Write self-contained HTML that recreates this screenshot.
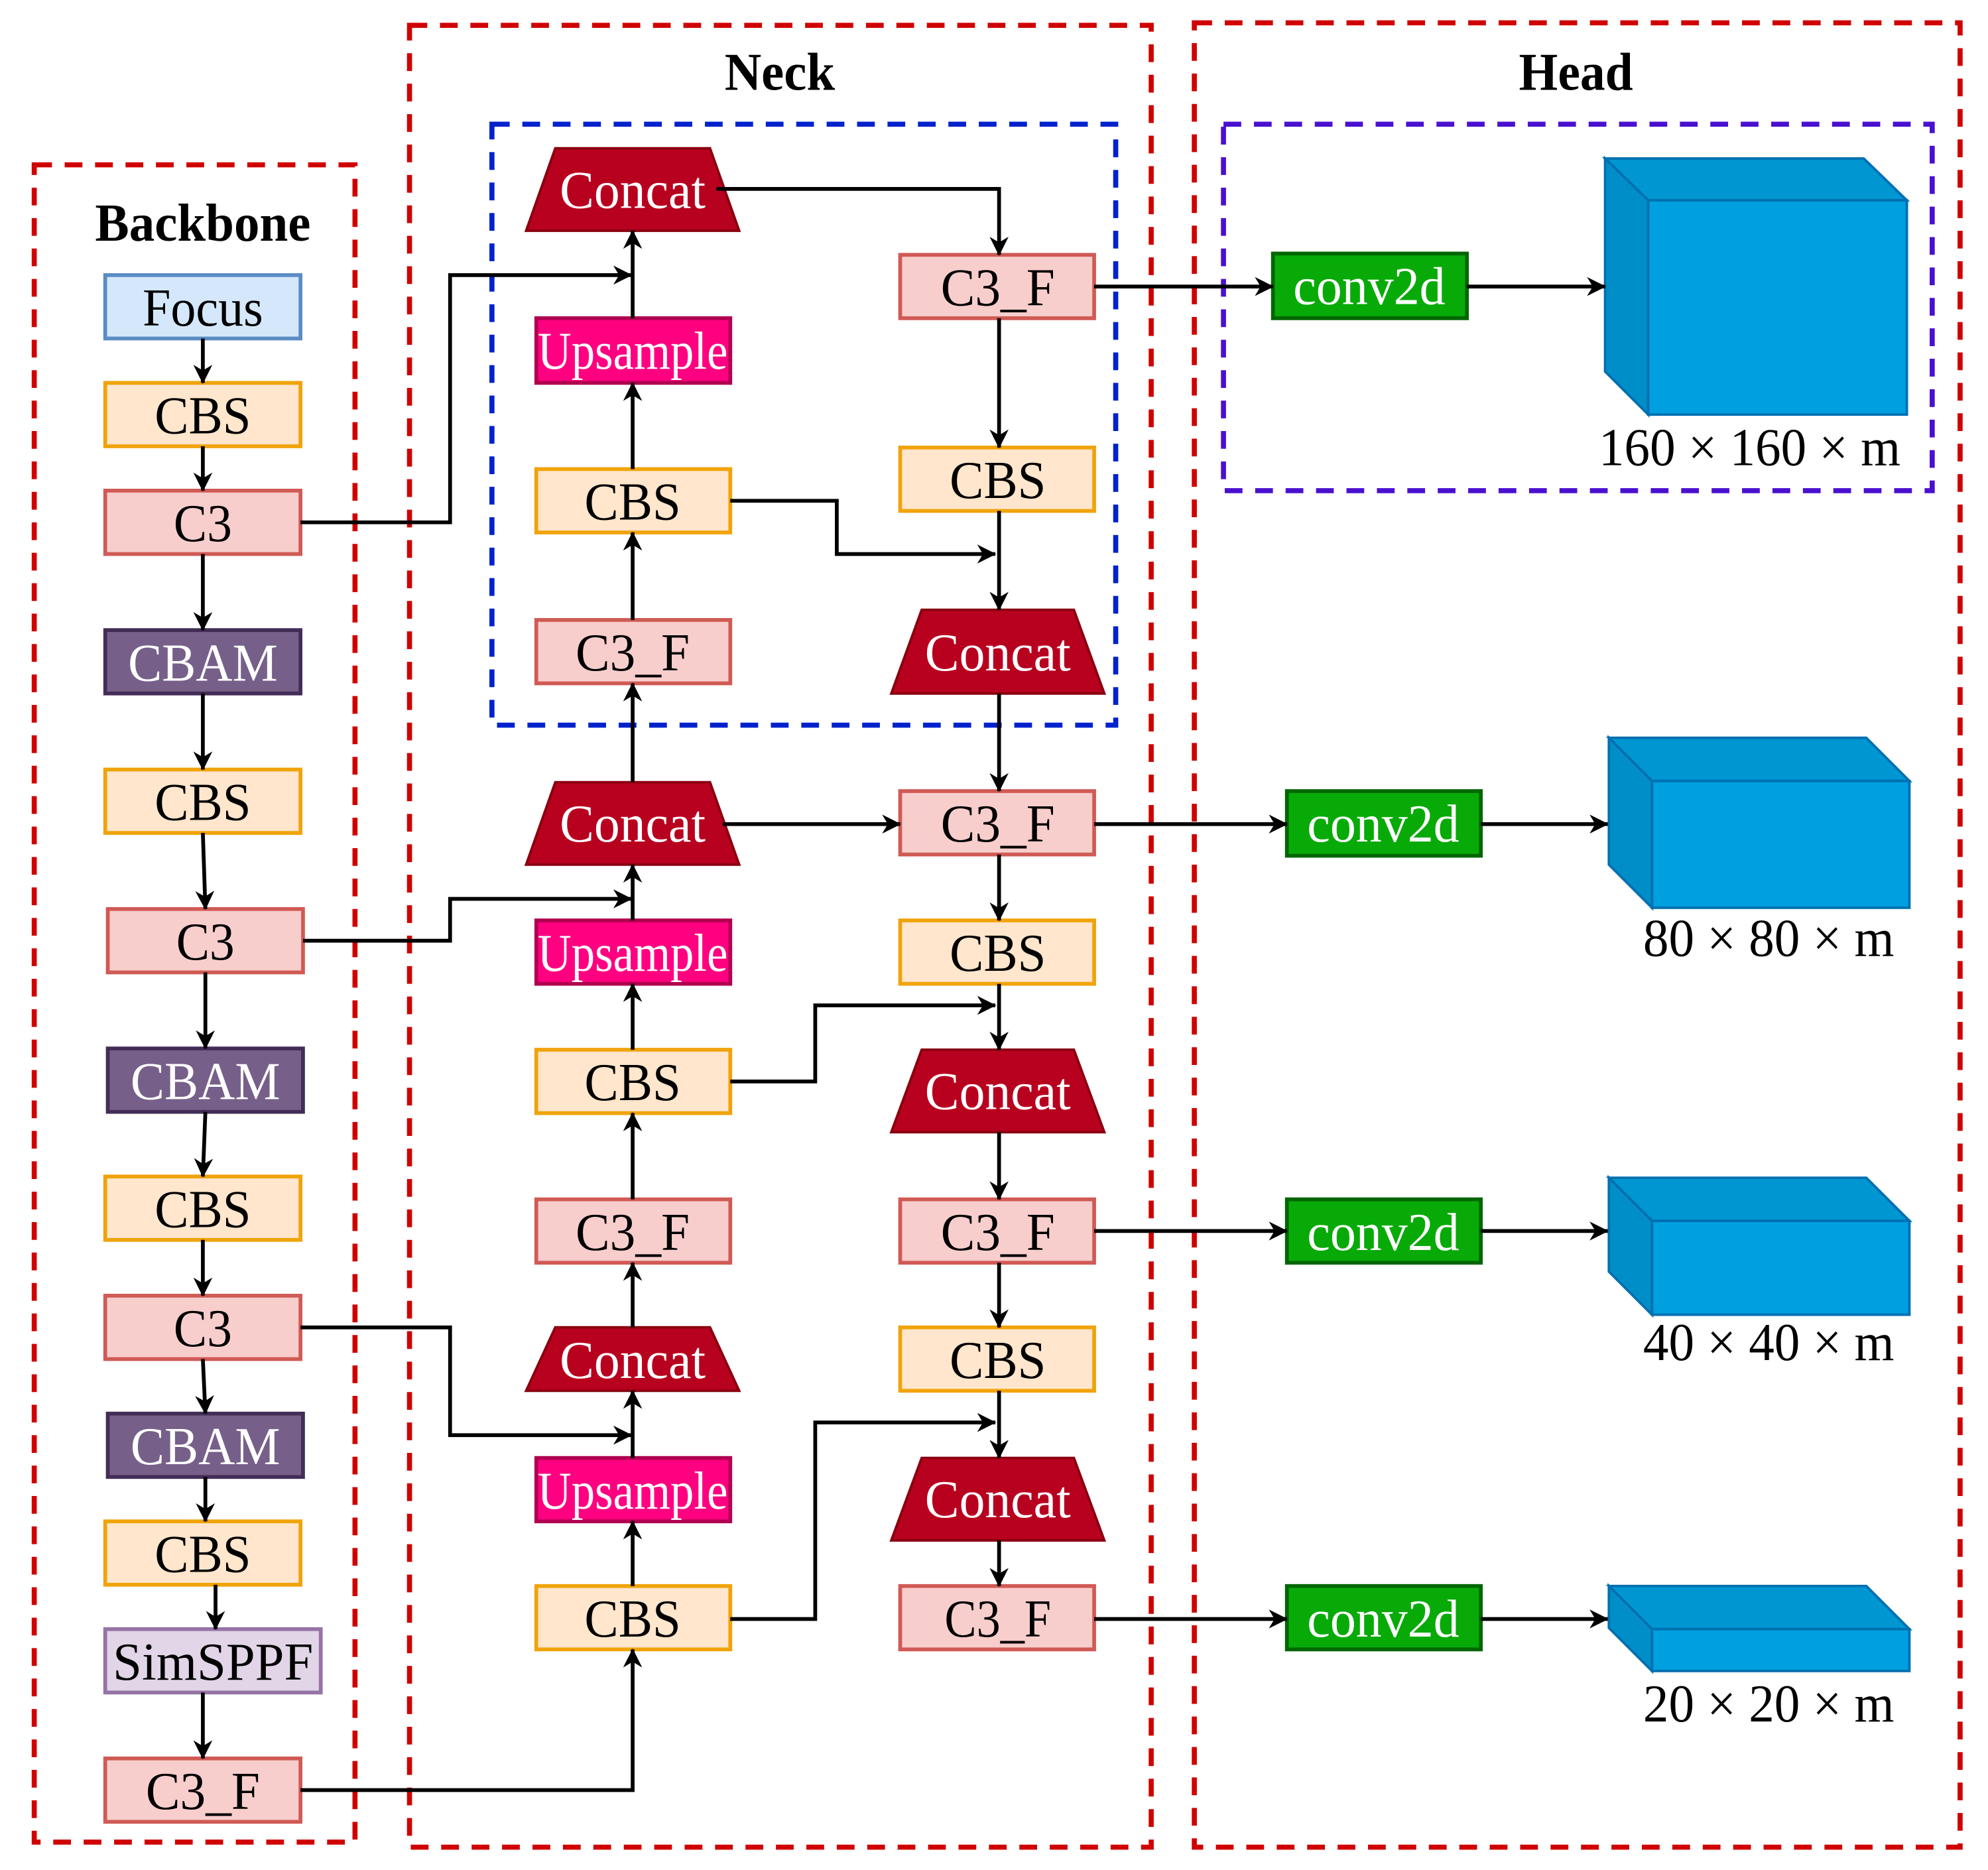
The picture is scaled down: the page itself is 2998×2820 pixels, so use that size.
<!DOCTYPE html>
<html><head><meta charset="utf-8"><style>
html,body{margin:0;padding:0;background:#fff;}
svg{display:block;}
text{font-family:"Liberation Serif",serif;text-anchor:middle;dominant-baseline:central;}
</style></head><body>
<svg width="2998" height="2820" viewBox="0 0 1568 1475" preserveAspectRatio="none" xmlns="http://www.w3.org/2000/svg">
<defs>
<marker id="a" viewBox="0 0 10 10" refX="9.5" refY="5" markerWidth="17" markerHeight="15" orient="auto" markerUnits="userSpaceOnUse">
<path d="M0,0 L10,5 L0,10 L3,5 z" fill="#000"/></marker>
</defs>
<style>
.dr{fill:none;stroke:#d00000;stroke-width:4;stroke-dasharray:14,10}
.ln path{fill:none;stroke:#000;stroke-width:3;marker-end:url(#a)}
.t{font-size:42px;fill:#000}
.w{font-size:42px;fill:#fff}
.cbs{fill:#ffe6cc;stroke:#f0a30a;stroke-width:3}
.c3{fill:#f8cecc;stroke:#d05a55;stroke-width:3}
.cbam{fill:#76608a;stroke:#432d57;stroke-width:3}
.up{fill:#ff0080;stroke:#b00050;stroke-width:3}
.cc{fill:#b8001f;stroke:#8a0010;stroke-width:2}
.cv{fill:#08aa08;stroke:#006600;stroke-width:3}
</style>
<rect class="dr" x="27" y="130" width="253" height="1323"/>
<rect class="dr" x="323" y="20" width="585" height="1437"/>
<rect class="dr" x="942" y="18" width="604" height="1439"/>
<rect x="388" y="98" width="492" height="474" fill="none" stroke="#0022cc" stroke-width="4" stroke-dasharray="14,10"/>
<rect x="965" y="98" width="559" height="289" fill="none" stroke="#4a10d0" stroke-width="4" stroke-dasharray="14,10"/>
<text x="160" y="176" class="t" style="font-weight:bold" textLength="170" lengthAdjust="spacingAndGlyphs">Backbone</text>
<text x="615" y="57" class="t" style="font-weight:bold" textLength="87" lengthAdjust="spacingAndGlyphs">Neck</text>
<text x="1243" y="57" class="t" style="font-weight:bold" textLength="90" lengthAdjust="spacingAndGlyphs">Head</text>

<rect x="83" y="217" width="154" height="50" fill="#d5e8fb" stroke="#5b8cc4" stroke-width="3"/><text x="160" y="243" class="t" textLength="95" lengthAdjust="spacingAndGlyphs">Focus</text>
<rect x="83" y="302" width="154" height="50" class="cbs"/><text x="160" y="328" class="t" textLength="76" lengthAdjust="spacingAndGlyphs">CBS</text>
<rect x="83" y="387" width="154" height="50" class="c3"/><text x="160" y="413" class="t" textLength="46" lengthAdjust="spacingAndGlyphs">C3</text>
<rect x="83" y="497" width="154" height="50" class="cbam"/><text x="160" y="523" class="w" textLength="118" lengthAdjust="spacingAndGlyphs">CBAM</text>
<rect x="83" y="607" width="154" height="50" class="cbs"/><text x="160" y="633" class="t" textLength="76" lengthAdjust="spacingAndGlyphs">CBS</text>
<rect x="85" y="717" width="154" height="50" class="c3"/><text x="162" y="743" class="t" textLength="46" lengthAdjust="spacingAndGlyphs">C3</text>
<rect x="85" y="827" width="154" height="50" class="cbam"/><text x="162" y="853" class="w" textLength="118" lengthAdjust="spacingAndGlyphs">CBAM</text>
<rect x="83" y="928" width="154" height="50" class="cbs"/><text x="160" y="954" class="t" textLength="76" lengthAdjust="spacingAndGlyphs">CBS</text>
<rect x="83" y="1022" width="154" height="50" class="c3"/><text x="160" y="1048" class="t" textLength="46" lengthAdjust="spacingAndGlyphs">C3</text>
<rect x="85" y="1115" width="154" height="50" class="cbam"/><text x="162" y="1141" class="w" textLength="118" lengthAdjust="spacingAndGlyphs">CBAM</text>
<rect x="83" y="1200" width="154" height="50" class="cbs"/><text x="160" y="1226" class="t" textLength="76" lengthAdjust="spacingAndGlyphs">CBS</text>
<rect x="83" y="1285" width="170" height="50" fill="#e1d5e7" stroke="#9673a6" stroke-width="3"/><text x="168" y="1311" class="t" textLength="158" lengthAdjust="spacingAndGlyphs">SimSPPF</text>
<rect x="83" y="1387" width="154" height="50" class="c3"/><text x="160" y="1413" class="t" textLength="90" lengthAdjust="spacingAndGlyphs">C3_F</text>

<polygon points="438,117 560,117 583,182 415,182" class="cc"/><text x="499" y="150" class="w" textLength="115" lengthAdjust="spacingAndGlyphs">Concat</text>
<rect x="423" y="251" width="153" height="51" class="up"/><text x="499" y="277" class="w" textLength="150" lengthAdjust="spacingAndGlyphs">Upsample</text>
<rect x="423" y="370" width="153" height="50" class="cbs"/><text x="499" y="396" class="t" textLength="76" lengthAdjust="spacingAndGlyphs">CBS</text>
<rect x="423" y="489" width="153" height="50" class="c3"/><text x="499" y="515" class="t" textLength="90" lengthAdjust="spacingAndGlyphs">C3_F</text>
<polygon points="438,617 560,617 583,682 415,682" class="cc"/><text x="499" y="650" class="w" textLength="115" lengthAdjust="spacingAndGlyphs">Concat</text>
<rect x="423" y="726" width="153" height="50" class="up"/><text x="499" y="752" class="w" textLength="150" lengthAdjust="spacingAndGlyphs">Upsample</text>
<rect x="423" y="828" width="153" height="50" class="cbs"/><text x="499" y="854" class="t" textLength="76" lengthAdjust="spacingAndGlyphs">CBS</text>
<rect x="423" y="946" width="153" height="50" class="c3"/><text x="499" y="972" class="t" textLength="90" lengthAdjust="spacingAndGlyphs">C3_F</text>
<polygon points="438,1047 560,1047 583,1097 415,1097" class="cc"/><text x="499" y="1073" class="w" textLength="115" lengthAdjust="spacingAndGlyphs">Concat</text>
<rect x="423" y="1150" width="153" height="50" class="up"/><text x="499" y="1176" class="w" textLength="150" lengthAdjust="spacingAndGlyphs">Upsample</text>
<rect x="423" y="1251" width="153" height="50" class="cbs"/><text x="499" y="1277" class="t" textLength="76" lengthAdjust="spacingAndGlyphs">CBS</text>

<rect x="710" y="201" width="153" height="50" class="c3"/><text x="787" y="227" class="t" textLength="90" lengthAdjust="spacingAndGlyphs">C3_F</text>
<rect x="710" y="353" width="153" height="50" class="cbs"/><text x="787" y="379" class="t" textLength="76" lengthAdjust="spacingAndGlyphs">CBS</text>
<polygon points="727,481 847,481 871,547 703,547" class="cc"/><text x="787" y="515" class="w" textLength="115" lengthAdjust="spacingAndGlyphs">Concat</text>
<rect x="710" y="624" width="153" height="50" class="c3"/><text x="787" y="650" class="t" textLength="90" lengthAdjust="spacingAndGlyphs">C3_F</text>
<rect x="710" y="726" width="153" height="50" class="cbs"/><text x="787" y="752" class="t" textLength="76" lengthAdjust="spacingAndGlyphs">CBS</text>
<polygon points="727,828 847,828 871,893 703,893" class="cc"/><text x="787" y="861" class="w" textLength="115" lengthAdjust="spacingAndGlyphs">Concat</text>
<rect x="710" y="946" width="153" height="50" class="c3"/><text x="787" y="972" class="t" textLength="90" lengthAdjust="spacingAndGlyphs">C3_F</text>
<rect x="710" y="1047" width="153" height="50" class="cbs"/><text x="787" y="1073" class="t" textLength="76" lengthAdjust="spacingAndGlyphs">CBS</text>
<polygon points="727,1150 847,1150 871,1215 703,1215" class="cc"/><text x="787" y="1183" class="w" textLength="115" lengthAdjust="spacingAndGlyphs">Concat</text>
<rect x="710" y="1251" width="153" height="50" class="c3"/><text x="787" y="1277" class="t" textLength="84" lengthAdjust="spacingAndGlyphs">C3_F</text>

<rect x="1004" y="200" width="153" height="51" class="cv"/><text x="1080" y="226" class="w" textLength="120" lengthAdjust="spacingAndGlyphs">conv2d</text>
<rect x="1015" y="624" width="153" height="51" class="cv"/><text x="1091" y="650" class="w" textLength="120" lengthAdjust="spacingAndGlyphs">conv2d</text>
<rect x="1015" y="946" width="153" height="50" class="cv"/><text x="1091" y="972" class="w" textLength="120" lengthAdjust="spacingAndGlyphs">conv2d</text>
<rect x="1015" y="1251" width="153" height="50" class="cv"/><text x="1091" y="1277" class="w" textLength="120" lengthAdjust="spacingAndGlyphs">conv2d</text>

<g stroke="#0070b0" stroke-width="2">
<polygon points="1266,125 1470,125 1504,158 1300,158" fill="#0096d2"/>
<polygon points="1266,125 1300,158 1300,327 1266,293" fill="#008ec8"/>
<rect x="1300" y="158" width="204" height="169" fill="#00a0e0"/>
<polygon points="1269,582 1472,582 1506,616 1303,616" fill="#0096d2"/>
<polygon points="1269,582 1303,616 1303,716 1269,682" fill="#008ec8"/>
<rect x="1303" y="616" width="203" height="100" fill="#00a0e0"/>
<polygon points="1269,929 1472,929 1506,963 1303,963" fill="#0096d2"/>
<polygon points="1269,929 1303,963 1303,1037 1269,1003" fill="#008ec8"/>
<rect x="1303" y="963" width="203" height="74" fill="#00a0e0"/>
<polygon points="1269,1251 1472,1251 1506,1285 1303,1285" fill="#0096d2"/>
<polygon points="1269,1251 1303,1285 1303,1318 1269,1284" fill="#008ec8"/>
<rect x="1303" y="1285" width="203" height="33" fill="#00a0e0"/>
</g>
<text x="1380" y="353" class="t" textLength="238" lengthAdjust="spacingAndGlyphs">160 × 160 × m</text>
<text x="1395" y="740" class="t" textLength="198" lengthAdjust="spacingAndGlyphs">80 × 80 × m</text>
<text x="1395" y="1059" class="t" textLength="198" lengthAdjust="spacingAndGlyphs">40 × 40 × m</text>
<text x="1395" y="1344" class="t" textLength="198" lengthAdjust="spacingAndGlyphs">20 × 20 × m</text>

<g class="ln">
<path d="M160,267V302"/><path d="M160,352V387"/><path d="M160,437V497"/><path d="M160,547V607"/>
<path d="M160,657L162,717"/><path d="M162,767V827"/><path d="M162,877L160,928"/><path d="M160,978V1022"/>
<path d="M160,1072L162,1115"/><path d="M162,1165V1200"/><path d="M170,1250V1285"/><path d="M160,1335V1387"/>
<path d="M237,412H355V217H498"/>
<path d="M239,742H355V709H498"/>
<path d="M237,1047H355V1132H498"/>
<path d="M237,1412H499V1301"/>
<path d="M499,1251V1200"/><path d="M499,1150V1097"/><path d="M499,1047V996"/><path d="M499,946V878"/>
<path d="M499,828V776"/><path d="M499,726V682"/><path d="M499,617V539"/><path d="M499,489V420"/>
<path d="M499,370V302"/><path d="M499,251V182"/>
<path d="M565,149H788V201"/>
<path d="M788,251V353"/><path d="M788,403V481"/><path d="M788,547V624"/><path d="M788,674V726"/>
<path d="M788,776V828"/><path d="M788,893V946"/><path d="M788,996V1047"/><path d="M788,1097V1150"/>
<path d="M788,1215V1251"/>
<path d="M576,395H660V437H785"/>
<path d="M570,650H710"/>
<path d="M576,853H643V793H785"/>
<path d="M576,1277H643V1122H785"/>
<path d="M863,226H1004"/><path d="M1157,226H1266"/>
<path d="M863,650H1015"/><path d="M1168,650H1268"/>
<path d="M863,971H1015"/><path d="M1168,971H1268"/>
<path d="M863,1277H1015"/><path d="M1168,1277H1268"/>
</g>
</svg>
</body></html>
